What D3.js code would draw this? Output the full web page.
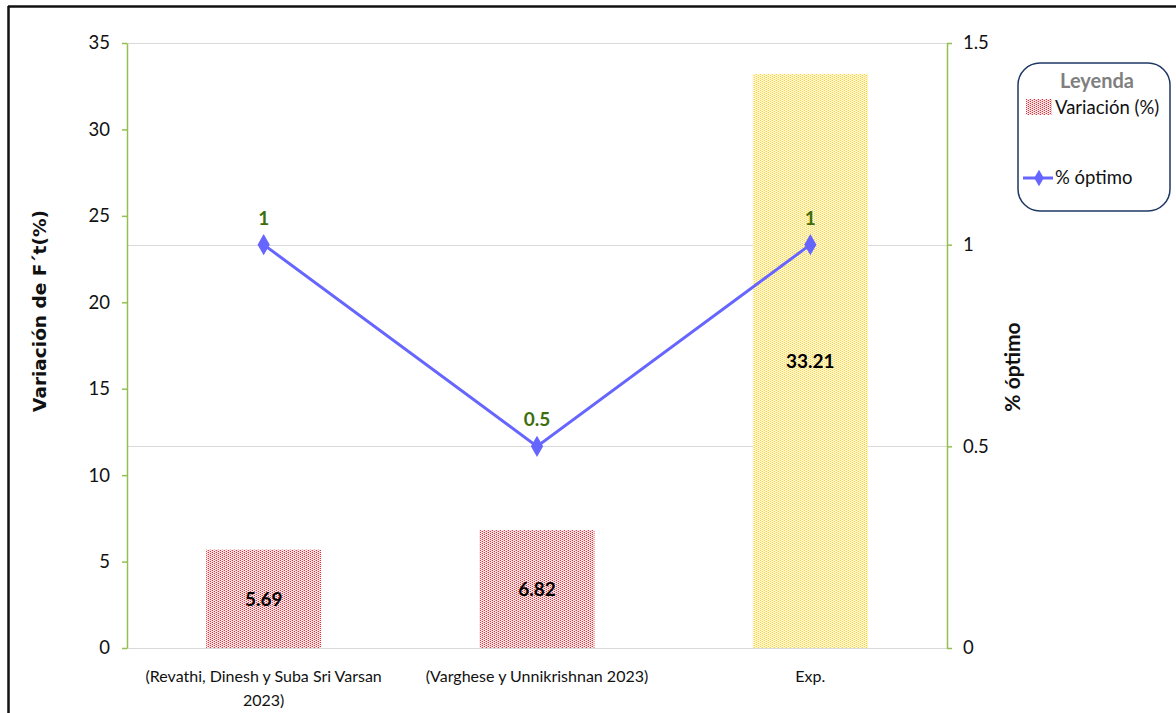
<!DOCTYPE html>
<html>
<head>
<meta charset="utf-8">
<script src="https://cdn.jsdelivr.net/npm/d3@7"></script>
<style>
  body { margin: 0; background: #fff; }
  svg { display: block; }
</style>
</head>
<body>
<svg id="chart" width="1176" height="713"></svg>
<script>
// Data
const categories = ["(Revathi, Dinesh y Suba Sri Varsan 2023)", "(Varghese y Unnikrishnan 2023)", "Exp."];
const categoryLines = [["(Revathi, Dinesh y Suba Sri Varsan", "2023)"], ["(Varghese y Unnikrishnan 2023)"], ["Exp."]];
const variacion = [5.69, 6.82, 33.21];
const optimo = [1, 0.5, 1];
const leftTicks = [0, 5, 10, 15, 20, 25, 30, 35];
const rightTicks = [0, 0.5, 1, 1.5];
const barPatterns = ["dotRed", "dotRed", "dotYellow"];

const svg = d3.select("#chart");
const margin = { left: 127, right: 947, top: 43, bottom: 648 };

// Frame lines along top and left edge
svg.append("line").attr("x1", 8).attr("x2", 1176).attr("y1", 6.5).attr("y2", 6.5)
  .attr("stroke", "#111").attr("stroke-width", 2.5);
svg.append("line").attr("x1", 8.5).attr("x2", 8.5).attr("y1", 6).attr("y2", 713)
  .attr("stroke", "#111").attr("stroke-width", 2.5);

// Dotted fill patterns
const defs = svg.append("defs");
function dotPattern(id, bg, dot, mid) {
  const p = defs.append("pattern").attr("id", id).attr("patternUnits", "userSpaceOnUse")
    .attr("width", 4).attr("height", 4);
  p.append("rect").attr("width", 4).attr("height", 4).attr("fill", bg);
  [[0,0],[2,1],[0,2],[2,3]].forEach(([x,y]) =>
    p.append("rect").attr("x", x).attr("y", y).attr("width", 1).attr("height", 1).attr("fill", dot));
  [[3,0],[3,2],[1,1],[1,3]].forEach(([x,y]) =>
    p.append("rect").attr("x", x).attr("y", y).attr("width", 1).attr("height", 1).attr("fill", mid));
}
dotPattern("dotRed", "#fdf0f1", "#e0303c", "#f4b4b8");
dotPattern("dotYellow", "#fffaf0", "#ffd528", "#ffeb9a");

// Scales
const xc = d3.scalePoint().domain(categories).range([margin.left, margin.right]).padding(0.5);
const yL = d3.scaleLinear().domain([0, 35]).range([margin.bottom, margin.top]);
const yR = d3.scaleLinear().domain([0, 1.5]).range([margin.bottom, margin.top]);

// Gridlines (secondary axis)
svg.append("g").selectAll("line").data(rightTicks.filter(d => d > 0)).join("line")
  .attr("x1", margin.left).attr("x2", margin.right)
  .attr("y1", d => Math.round(yR(d)) + 0.5).attr("y2", d => Math.round(yR(d)) + 0.5)
  .attr("stroke", "#d9d9d9").attr("stroke-width", 1);
// Category baseline
svg.append("line").attr("x1", margin.left).attr("x2", margin.right)
  .attr("y1", margin.bottom + 0.5).attr("y2", margin.bottom + 0.5)
  .attr("stroke", "#d9d9d9").attr("stroke-width", 1);

// Bars
const barW = 115;
svg.append("g").selectAll("rect").data(variacion).join("rect")
  .attr("x", (d, i) => xc(categories[i]) - barW / 2)
  .attr("width", barW)
  .attr("y", d => yL(d))
  .attr("height", d => yL(0) - yL(d))
  .attr("fill", (d, i) => `url(#${barPatterns[i]})`);

// Axes
const axisColor = "#92c050";
const tickFont = "Lato, 'Open Sans', sans-serif";
const gL = svg.append("g").attr("transform", `translate(${margin.left},0)`)
  .call(d3.axisLeft(yL).tickValues(leftTicks).tickSize(5).tickSizeOuter(0).tickPadding(12));
const gR = svg.append("g").attr("transform", `translate(${margin.right},0)`)
  .call(d3.axisRight(yR).tickValues(rightTicks).tickSize(5).tickSizeOuter(0).tickPadding(11)
    .tickFormat(d3.format("")));
[gL, gR].forEach(g => {
  g.select(".domain").attr("stroke", axisColor).attr("stroke-width", 1.5);
  g.selectAll(".tick line").attr("stroke", axisColor).attr("stroke-width", 1.5);
  g.selectAll(".tick text").attr("fill", "#111").attr("font-size", 18.5).attr("font-family", tickFont);
});

// Category labels
const catG = svg.append("g");
categoryLines.forEach((lines, i) => {
  const t = catG.append("text").attr("x", xc(categories[i])).attr("y", 682)
    .attr("text-anchor", "middle").attr("font-family", tickFont).attr("font-size", 16)
    .attr("fill", "#111");
  lines.forEach((ln, j) => t.append("tspan").attr("x", xc(categories[i])).attr("dy", j === 0 ? 0 : 24).text(ln));
});

// Bar value labels
svg.append("g").selectAll("text").data(variacion).join("text")
  .attr("x", (d, i) => xc(categories[i]))
  .attr("y", d => (yL(d) + yL(0)) / 2 + 7)
  .attr("text-anchor", "middle").attr("font-family", tickFont).attr("font-weight", "bold")
  .attr("font-size", 19).attr("fill", "#000")
  .text(d => d3.format(".2f")(d));

// Line series
const lineColor = "#6666ff";
const line = d3.line().x((d, i) => xc(categories[i])).y(d => yR(d));
svg.append("path").datum(optimo).attr("d", line)
  .attr("fill", "none").attr("stroke", lineColor).attr("stroke-width", 3);
const diamond = d3.symbol().type(d3.symbolDiamond).size(130);
svg.append("g").selectAll("path").data(optimo).join("path")
  .attr("transform", (d, i) => `translate(${xc(categories[i])},${yR(d)})`)
  .attr("d", diamond).attr("fill", lineColor);

// Line value labels
svg.append("g").selectAll("text").data(optimo).join("text")
  .attr("x", (d, i) => xc(categories[i]))
  .attr("y", d => yR(d) - 20)
  .attr("text-anchor", "middle").attr("font-family", tickFont).attr("font-weight", "bold")
  .attr("font-size", 19).attr("fill", "#3c6e0a")
  .text(d => d);

// Axis titles
svg.append("text").attr("transform", "translate(46,311) rotate(-90)")
  .attr("text-anchor", "middle").attr("font-family", "'DejaVu Sans', Verdana, sans-serif")
  .attr("font-weight", "bold").attr("font-size", 18.5).attr("fill", "#111")
  .text("Variación de F´t(%)");
svg.append("text").attr("transform", "translate(1020,367) rotate(-90)")
  .attr("text-anchor", "middle").attr("font-family", tickFont)
  .attr("font-weight", "bold").attr("font-size", 21).attr("fill", "#111")
  .text("% óptimo");

// Legend
const lg = svg.append("g");
lg.append("rect").attr("x", 1018).attr("y", 63).attr("width", 152).attr("height", 148)
  .attr("rx", 22).attr("ry", 22).attr("fill", "#fff").attr("stroke", "#1f3864").attr("stroke-width", 1.5);
lg.append("text").attr("x", 1097).attr("y", 88).attr("text-anchor", "middle")
  .attr("font-family", tickFont).attr("font-weight", "bold").attr("font-size", 20).attr("fill", "#7f7f7f")
  .text("Leyenda");
lg.append("rect").attr("x", 1026).attr("y", 99).attr("width", 26).attr("height", 16)
  .attr("fill", "url(#dotRed)");
lg.append("text").attr("x", 1055).attr("y", 114).attr("font-family", tickFont).attr("font-size", 18.5)
  .attr("fill", "#111").text("Variación (%)");
lg.append("line").attr("x1", 1023).attr("x2", 1053).attr("y1", 178).attr("y2", 178)
  .attr("stroke", lineColor).attr("stroke-width", 3);
lg.append("path").attr("transform", "translate(1039,178)").attr("d", d3.symbol().type(d3.symbolDiamond).size(80))
  .attr("fill", lineColor);
lg.append("text").attr("x", 1055).attr("y", 184).attr("font-family", tickFont).attr("font-size", 18.5)
  .attr("fill", "#111").text("% óptimo");
</script>
</body>
</html>
